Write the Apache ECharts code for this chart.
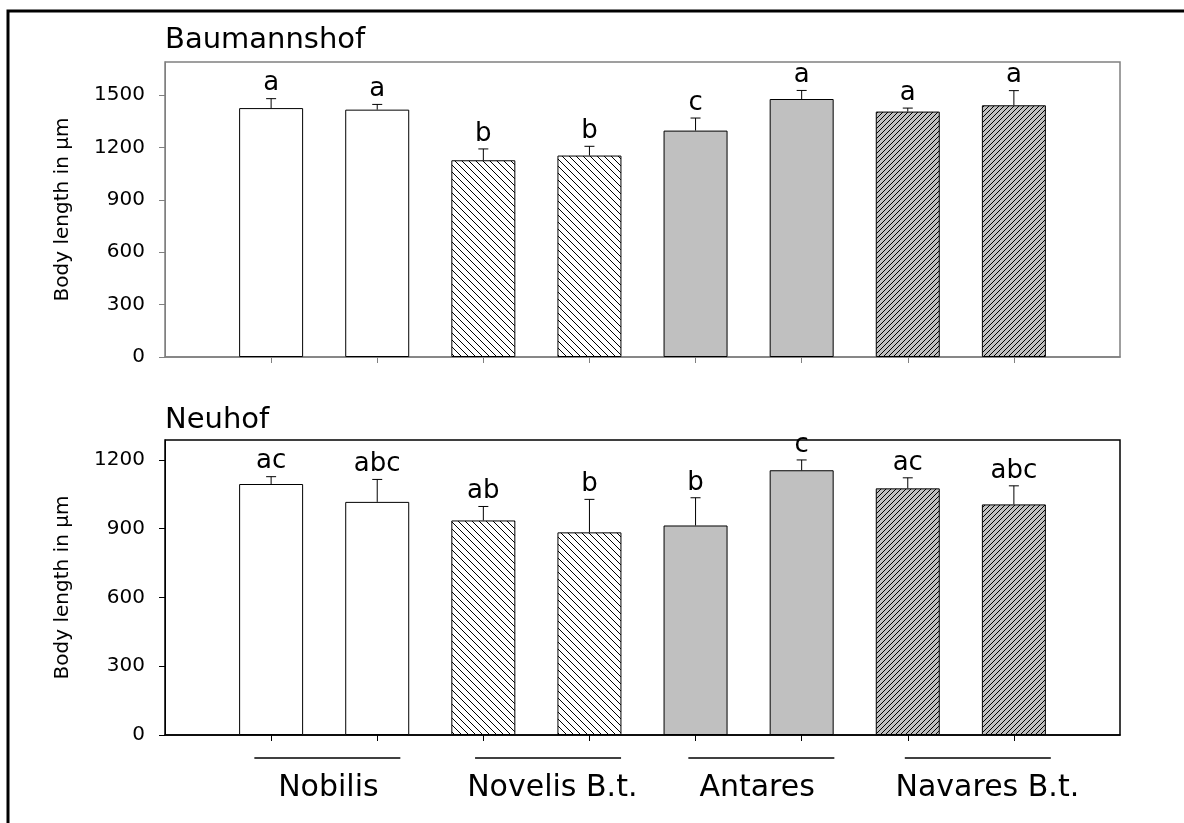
<!DOCTYPE html>
<html>
<head>
<meta charset="utf-8">
<script src="https://cdn.jsdelivr.net/npm/echarts@6/dist/echarts.min.js"></script>
<style>
  html, body { margin: 0; padding: 0; background: #fff; }
  #main { width: 1184px; height: 823px; }
</style>
</head>
<body>
<div id="main"></div>
<script>
// bars, left to right (two per cultivar)
var categories = ['', 'Nobilis 1', 'Nobilis 2', 'Novelis B.t. 1', 'Novelis B.t. 2',
  'Antares 1', 'Antares 2', 'Navares B.t. 1', 'Navares B.t. 2', ''];
var groupNames = ['Nobilis', 'Novelis B.t.', 'Antares', 'Navares B.t.'];
var groupLabelPos = [1.54, 3.65, 5.58, 7.75]; // bar units
var groupLinePos = [1.53, 3.61, 5.62, 7.66];

// Baumannshof
var baumValues = [1426, 1417, 1127, 1154, 1297, 1478, 1406, 1442];
var baumErrors = [54, 30, 65, 53, 72, 49, 20, 84];
var baumLetters = ['a', 'a', 'b', 'b', 'c', 'a', 'a', 'a'];

// Neuhof
var neuValues = [1095, 1017, 936, 884, 914, 1155, 1076, 1006];
var neuErrors = [32, 98, 61, 144, 121, 45, 46, 81];
var neuLetters = ['ac', 'abc', 'ab', 'b', 'b', 'c', 'ac', 'abc'];

var yTicks = [0, 300, 600, 900, 1200, 1500];

var FONT = "'DejaVu Sans', 'Liberation Sans', Arial, sans-serif";
var GRID_LEFT = 165, GRID_W = 955, GRID_H = 295;
var TOP1 = 62, TOP2 = 440;
var STEP = GRID_W / 9;

// hatch tiles
function hatch(bg, size, dir) {
	var c = document.createElement('canvas');
	c.width = c.height = size;
	var g = c.getContext('2d');
	g.fillStyle = bg;
	g.fillRect(0, 0, size, size);
	g.strokeStyle = '#000';
	g.lineWidth = 1;
	g.beginPath();
	if (dir === 'down') {
		g.moveTo(-1, -1); g.lineTo(size + 1, size + 1);
		g.moveTo(-1, size - 1); g.lineTo(1, size + 1);
		g.moveTo(size - 1, -1); g.lineTo(size + 1, 1);
	} else {
		g.moveTo(-1, size + 1); g.lineTo(size + 1, -1);
		g.moveTo(-1, 1); g.lineTo(1, -1);
		g.moveTo(size - 1, size + 1); g.lineTo(size + 1, size - 1);
	}
	g.stroke();
	return c;
}
var fills = [
	'#ffffff',
	{ image: hatch('#ffffff', 7, 'down'), repeat: 'repeat' },
	'#c0c0c0',
	{ image: hatch('#c0c0c0', 5, 'up'), repeat: 'repeat' }
];

function barData(values) {
	return values.map(function (v, i) {
		return {
			value: [i + 1, v],
			itemStyle: { color: fills[Math.floor(i / 2)] }
		};
	});
}
function errData(values, errors) {
	return values.map(function (v, i) { return [i + 1, v, errors[i]]; });
}
function errRender(letters) {
	return function (params, api) {
		var x = api.value(0), v = api.value(1), e = api.value(2);
		var base = api.coord([x, v]);
		var top = api.coord([x, v + e]);
		return {
			type: 'group',
			children: [
				{ type: 'line', shape: { x1: base[0], y1: base[1], x2: top[0], y2: top[1] },
					style: { stroke: '#000', lineWidth: 1 } },
				{ type: 'line', shape: { x1: top[0] - 5, y1: top[1], x2: top[0] + 5, y2: top[1] },
					style: { stroke: '#000', lineWidth: 1 } },
				{ type: 'text', x: top[0], y: top[1] - 2,
					style: { text: letters[params.dataIndex], fill: '#000', font: '26px ' + FONT,
						align: 'center', verticalAlign: 'bottom',
						textAlign: 'center', textVerticalAlign: 'bottom' } }
			]
		};
	};
}

function xAxis(idx, color) {
	return {
		type: 'category', gridIndex: idx, data: categories, boundaryGap: false,
		axisLine: { show: true, lineStyle: { color: color, width: 1.5 } },
		axisTick: { show: true, length: 6, lineStyle: { color: color },
			interval: function (i) { return i > 0 && i < 9; } },
		axisLabel: { show: false },
		splitLine: { show: false }
	};
}
function yAxis(idx, max, color) {
	return {
		type: 'value', gridIndex: idx, min: 0, max: max, interval: 300,
		name: 'Body length in µm', nameLocation: 'middle', nameGap: 92,
		nameTextStyle: { color: '#000', fontSize: 20, fontFamily: FONT },
		axisLine: { show: true, lineStyle: { color: color, width: 1 } },
		axisTick: { show: true, length: 6, lineStyle: { color: color } },
		axisLabel: { color: '#000', fontSize: 20, fontFamily: FONT, margin: 20,
			showMaxLabel: false,
			formatter: function (v) { return yTicks.indexOf(v) >= 0 ? String(v) : ''; } },
		splitLine: { show: false }
	};
}

var graphics = [
	{ type: 'rect', shape: { x: 8, y: 11, width: 1400, height: 1000 },
		style: { fill: 'none', stroke: '#000', lineWidth: 3 }, silent: true }
];
groupNames.forEach(function (name, i) {
	var lx = GRID_LEFT + groupLinePos[i] * STEP;
	var tx = GRID_LEFT + groupLabelPos[i] * STEP;
	graphics.push({ type: 'line', shape: { x1: lx - 73, y1: 758, x2: lx + 73, y2: 758 },
		style: { stroke: '#000', lineWidth: 1.5 } });
	graphics.push({ type: 'text', x: tx, y: 788,
		style: { text: name, fill: '#000', font: '30px ' + FONT,
			align: 'center', verticalAlign: 'middle', textAlign: 'center', textVerticalAlign: 'middle' } });
});

var chart = echarts.init(document.getElementById('main'));
chart.setOption({
	backgroundColor: '#fff',
	animation: false,
	title: [
		{ text: 'Baumannshof', left: GRID_LEFT - 5, top: 21,
			textStyle: { color: '#000', fontSize: 29, fontWeight: 'normal', fontFamily: FONT } },
		{ text: 'Neuhof', left: GRID_LEFT - 5, top: 401,
			textStyle: { color: '#000', fontSize: 29, fontWeight: 'normal', fontFamily: FONT } }
	],
	grid: [
		{ left: GRID_LEFT, top: TOP1, width: GRID_W, height: GRID_H, show: true,
			borderColor: '#808080', borderWidth: 1.5, backgroundColor: 'transparent' },
		{ left: GRID_LEFT, top: TOP2, width: GRID_W, height: GRID_H, show: true,
			borderColor: '#000', borderWidth: 1.5, backgroundColor: 'transparent' }
	],
	xAxis: [xAxis(0, '#808080'), xAxis(1, '#000')],
	yAxis: [yAxis(0, 1690, '#808080'), yAxis(1, 1287, '#000')],
	series: [
		{ type: 'bar', xAxisIndex: 0, yAxisIndex: 0, barWidth: 64, data: barData(baumValues),
			itemStyle: { borderColor: '#000', borderWidth: 1 } },
		{ type: 'custom', xAxisIndex: 0, yAxisIndex: 0, data: errData(baumValues, baumErrors),
			renderItem: errRender(baumLetters), z: 5 },
		{ type: 'bar', xAxisIndex: 1, yAxisIndex: 1, barWidth: 64, data: barData(neuValues),
			itemStyle: { borderColor: '#000', borderWidth: 1 } },
		{ type: 'custom', xAxisIndex: 1, yAxisIndex: 1, data: errData(neuValues, neuErrors),
			renderItem: errRender(neuLetters), z: 5 }
	],
	graphic: graphics
});
</script>
</body>
</html>
